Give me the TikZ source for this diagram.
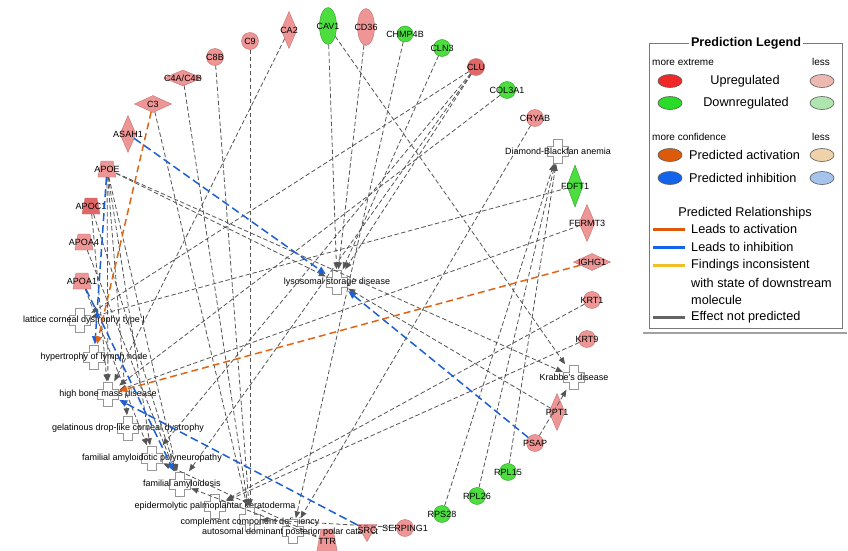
\documentclass[tikz,border=0pt]{standalone}
\usepackage{fontspec}
\setmainfont{Liberation Sans}
\usetikzlibrary{shapes.geometric,arrows.meta}
\definecolor{pinkf}{RGB}{238,150,150}
\definecolor{pinkd}{RGB}{200,110,110}
\definecolor{redf}{RGB}{224,104,104}
\definecolor{greenf}{RGB}{76,222,62}
\definecolor{greend}{RGB}{40,160,40}
\definecolor{edgegray}{RGB}{85,85,85}
\definecolor{actc}{RGB}{224,100,20}
\definecolor{inhc}{RGB}{30,95,210}
\definecolor{crossc}{RGB}{150,150,150}
\definecolor{legred}{RGB}{240,40,40}
\definecolor{leggreen}{RGB}{40,220,40}
\definecolor{legpink}{RGB}{235,185,175}
\definecolor{leglgreen}{RGB}{175,230,175}
\definecolor{legorange}{RGB}{220,90,10}
\definecolor{legblue}{RGB}{20,100,235}
\definecolor{legtan}{RGB}{240,210,170}
\definecolor{leglblue}{RGB}{165,195,235}
\definecolor{legyellow}{RGB}{240,190,40}
\definecolor{legboxc}{RGB}{120,120,120}
\newcommand{\nlab}[3][]{\node[lbl,#1] (#2-t) at (#2.center) {#3};}
\tikzset{
  lbl/.style={font=\fontsize{9}{10}\selectfont, text=black, inner sep=0pt},
  mol/.style={draw=pinkd, fill=pinkf, inner sep=0pt, line width=0.4pt},
  dn/.style={mol, draw=greend, fill=greenf},
  circ/.style={circle, minimum size=17pt},
  vdia/.style={diamond, minimum width=16pt, minimum height=37pt},
  hdia/.style={diamond, minimum width=37pt, minimum height=17pt},
  ell/.style={ellipse, minimum width=17pt, minimum height=37pt},
  trapbox/.style={rectangle, inner sep=0pt, minimum width=18pt, minimum height=16pt},
  trapz/.pic={\filldraw (-6,-8) -- (6,-8) -- (9,8) -- (-9,8) -- cycle;},
  bigtrapz/.pic={\filldraw (-6,-12) -- (6,-12) -- (10.5,12) -- (-10.5,12) -- cycle;},
  dis/.style={rectangle, inner sep=0pt, minimum width=22pt, minimum height=25pt},
  crossp/.pic={\filldraw[fill=white, draw=crossc, line width=0.8pt]
    (-4.5,-12) -- (4.5,-12) -- (4.5,-5) -- (10.5,-5) -- (10.5,5) -- (4.5,5) -- (4.5,12)
    -- (-4.5,12) -- (-4.5,5) -- (-10.5,5) -- (-10.5,-5) -- (-4.5,-5) -- cycle;},
  ge/.style={draw=edgegray, line width=0.8pt, dash pattern=on 4.5pt off 2.5pt, -{Triangle[length=7pt,width=5.5pt]}},
  oe/.style={draw=actc, line width=1.5pt, dash pattern=on 7pt off 4pt, -{Triangle[length=8pt,width=6.5pt]}},
  be/.style={draw=inhc, line width=1.5pt, dash pattern=on 8pt off 4pt, -{Triangle[length=8pt,width=6.5pt]}},
  legt/.style={font=\fontsize{12.7}{14}\selectfont, text=black, inner sep=0pt},
  legs/.style={font=\fontsize{10}{11}\selectfont, text=black, inner sep=0pt},
  lell/.style={ellipse, draw={rgb,255:red,90;green,90;blue,90}, line width=0.6pt, minimum width=24pt, minimum height=13pt, inner sep=0pt},
  legline/.style={line width=3pt}
}
\begin{document}
\begin{tikzpicture}[x=1pt,y=-1pt]
\useasboundingbox (0,0) rectangle (848,551);
\fill[white] (0,0) rectangle (848,551);

% ---------- legend ----------
\draw[draw=legboxc, line width=0.8pt] (649,43) rectangle (842,328);
\node[fill=white, inner sep=2pt, font=\fontsize{12.6}{14}\selectfont\bfseries] (ltitle) at (746,43) {Prediction Legend};
\node[legs, anchor=west] (lme) at (652,62) {more extreme};
\node[legs] (lless1) at (821,62) {less};
\node[lell, fill=legred] (e1) at (670,81) {};
\node[legt] (lup) at (745,81) {Upregulated};
\node[lell, fill=legpink] (e2) at (822,81) {};
\node[lell, fill=leggreen] (e3) at (670,103) {};
\node[legt] (ldown) at (746,103) {Downregulated};
\node[lell, fill=leglgreen] (e4) at (822,103) {};
\node[legs, anchor=west] (lmc) at (652,137) {more confidence};
\node[legs] (lless2) at (821,137) {less};
\node[lell, fill=legorange] (e5) at (670,155) {};
\node[legt, anchor=west] (lpa) at (689,155) {Predicted activation};
\node[lell, fill=legtan] (e6) at (822,155) {};
\node[lell, fill=legblue] (e7) at (670,178) {};
\node[legt, anchor=west] (lpi) at (689,178) {Predicted inhibition};
\node[lell, fill=leglblue] (e8) at (822,178) {};
\node[legt] (lpr) at (745,213) {Predicted Relationships};
\coordinate (la1) at (653,229); \coordinate (la2) at (685,229);
\coordinate (lb1) at (653,247); \coordinate (lb2) at (685,247);
\coordinate (lc1) at (653,265); \coordinate (lc2) at (685,265);
\coordinate (ld1) at (653,317); \coordinate (ld2) at (685,317);
\draw[legline, draw=legorange] (la1) -- (la2);
\draw[legline, draw=legblue] (lb1) -- (lb2);
\draw[legline, draw=legyellow] (lc1) -- (lc2);
\draw[legline, draw={rgb,255:red,100;green,100;blue,100}] (ld1) -- (ld2);
\node[legt, anchor=west] (lta) at (691,229) {Leads to activation};
\node[legt, anchor=west] (ltb) at (691,247) {Leads to inhibition};
\node[legt, anchor=west] (ltc) at (691,265) {Findings inconsistent};
\node[legt, anchor=west] (ltc2) at (691,283) {with state of downstream};
\node[legt, anchor=west] (ltc3) at (691,300) {molecule};
\node[legt, anchor=west] (ltd) at (691,317) {Effect not predicted};
\coordinate (lu1) at (643,333); \coordinate (lu2) at (847,333);
\draw[draw={rgb,255:red,160;green,160;blue,160}, line width=1.3pt] (lu1) -- (lu2);

% ---------- TTR (under the disease label) ----------
\pic[mol] at (327,541) {bigtrapz};
\node[trapbox, minimum width=21pt, minimum height=24pt] (ttr) at (327,541) {};
\nlab{ttr}{TTR}

% ---------- diseases ----------
\pic at (558,151) {crossp};
\node[dis] (dba) at (558,151) {};
\nlab{dba}{Diamond-Blackfan anemia}
\pic at (574,377) {crossp};
\node[dis] (krabbe) at (574,377) {};
\nlab{krabbe}{Krabbe's disease}
\pic at (337,282) {crossp};
\node[dis] (lsd) at (337,282) {};
\nlab{lsd}{lysosomal storage disease}
\pic at (80,320) {crossp};
\node[dis] (lcd) at (80,320) {};
\nlab[xshift=4pt]{lcd}{lattice corneal dystrophy type I}
\pic at (94,357) {crossp};
\node[dis] (hln) at (94,357) {};
\nlab{hln}{hypertrophy of lymph node}
\pic at (108,394) {crossp};
\node[dis] (hbm) at (108,394) {};
\nlab{hbm}{high bone mass disease}
\pic at (128,428) {crossp};
\node[dis] (gdl) at (128,428) {};
\nlab{gdl}{gelatinous drop-like corneal dystrophy}
\pic at (152,458) {crossp};
\node[dis] (fap) at (152,458) {};
\nlab{fap}{familial amyloidotic polyneuropathy}
\pic at (180,484) {crossp};
\node[dis] (fa) at (180,484) {};
\nlab[xshift=2pt]{fa}{familial amyloidosis}
\pic at (215,506) {crossp};
\node[dis] (epk) at (215,506) {};
\nlab{epk}{epidermolytic palmoplantar keratoderma}
\pic at (250,519) {crossp};
\node[dis] (ccd) at (250,519) {};
\nlab[yshift=-3pt]{ccd}{complement component deficiency}
\pic at (293,531) {crossp};
\node[dis] (adp) at (293,531) {};
\nlab[xshift=-3pt,yshift=-1pt]{adp}{autosomal dominant posterior polar cataract}

% ---------- molecules ----------
\node[mol, vdia] (ca2) at (289,30) {}; \nlab{ca2}{CA2}
\node[mol, circ] (c9) at (250,41) {}; \nlab{c9}{C9}
\node[mol, circ] (c8b) at (215,57) {}; \nlab{c8b}{C8B}
\node[mol, hdia, minimum width=38pt, minimum height=16pt] (c4) at (183,78) {}; \nlab{c4}{C4A/C4B}
\node[mol, hdia] (c3) at (153,104) {}; \nlab{c3}{C3}
\node[mol, vdia] (asah1) at (128,134) {}; \nlab{asah1}{ASAH1}
\pic[mol] at (107,169) {trapz};
\node[trapbox] (apoe) at (107,169) {}; \nlab{apoe}{APOE}
\pic[mol, fill=redf] at (91,206) {trapz};
\node[trapbox] (apoc1) at (91,206) {}; \nlab{apoc1}{APOC1}
\pic[mol] at (84,242) {trapz};
\node[trapbox] (apoa4) at (84,242) {}; \nlab{apoa4}{APOA4}
\pic[mol] at (82,281) {trapz};
\node[trapbox] (apoa1) at (82,281) {}; \nlab{apoa1}{APOA1}
\node[dn, ell] (cav1) at (328,26) {}; \nlab{cav1}{CAV1}
\node[mol, ell] (cd36) at (366,27) {}; \nlab{cd36}{CD36}
\node[dn, circ, minimum size=16pt] (chmp4b) at (405,34) {}; \nlab{chmp4b}{CHMP4B}
\node[dn, circ] (cln3) at (442,48) {}; \nlab{cln3}{CLN3}
\node[mol, circ, fill=redf] (clu) at (476,67) {}; \nlab{clu}{CLU}
\node[dn, circ] (col3a1) at (507,90) {}; \nlab{col3a1}{COL3A1}
\node[mol, circ] (cryab) at (535,118) {}; \nlab{cryab}{CRYAB}
\node[dn, vdia, minimum height=42pt] (fdft1) at (575,186) {}; \nlab{fdft1}{FDFT1}
\node[mol, vdia] (fermt3) at (587,223) {}; \nlab{fermt3}{FERMT3}
\node[mol, hdia] (ighg1) at (592,262) {}; \nlab{ighg1}{IGHG1}
\node[mol, circ] (krt1) at (592,300) {}; \nlab{krt1}{KRT1}
\node[mol, circ] (krt9) at (587,339) {}; \nlab{krt9}{KRT9}
\node[mol, vdia] (ppt1) at (557,412) {}; \nlab{ppt1}{PPT1}
\node[mol, circ] (psap) at (535,443) {}; \nlab{psap}{PSAP}
\node[dn, circ] (rpl15) at (508,472) {}; \nlab{rpl15}{RPL15}
\node[dn, circ] (rpl26) at (477,496) {}; \nlab{rpl26}{RPL26}
\node[dn, circ] (rps28) at (442,514) {}; \nlab{rps28}{RPS28}
\node[mol, circ] (serping1) at (405,528) {}; \nlab{serping1}{SERPING1}
\node[mol, regular polygon, regular polygon sides=3, shape border rotate=180, minimum size=23pt] (src) at (367,530) {}; \nlab{src}{SRC}

% ---------- relationships ----------
\draw[ge] (c3) -- (ccd);
\draw[ge] (c4) -- (ccd);
\draw[ge] (c8b) -- (ccd);
\draw[ge] (c9) -- (ccd);
\draw[ge] (serping1) -- (ccd);
\draw[ge] (ca2) -- (hbm);
\draw[ge] (cav1) -- (lsd);
\draw[ge] (cav1) -- (krabbe);
\draw[ge] (cd36) -- (lsd);
\draw[ge] (chmp4b) -- (adp);
\draw[ge] (cln3) -- (lsd);
\draw[ge] (clu) -- (lsd);
\draw[ge] (clu) -- (fa);
\draw[ge] (clu) -- (fap);
\draw[ge] (clu) -- (lcd);
\draw[ge] (col3a1) -- (hbm);
\draw[ge] (cryab) -- (adp);
\draw[ge] (rpl15) -- (dba);
\draw[ge] (rpl26) -- (dba);
\draw[ge] (rps28) -- (dba);
\draw[ge] (fdft1) -- (lcd);
\draw[ge] (fermt3) -- (hbm);
\draw[ge] (krt1) -- (epk);
\draw[ge] (krt9) -- (epk);
\draw[ge] (psap) -- (krabbe);
\draw[ge] (ppt1) -- (lsd);
\draw[ge] (apoe) -- (lsd);
\draw[ge] (apoe) -- (krabbe);
\draw[ge] (apoe) -- (hbm);
\draw[ge] (apoe) -- (gdl);
\draw[ge] (apoe) -- (fap);
\draw[ge] (apoe) -- (fa);
\draw[ge] (apoc1) -- (hbm);
\draw[ge] (apoc1) -- (fa);
\draw[ge] (apoa4) -- (fa);
\draw[ge] (apoa1) -- (fap);
\draw[ge] (ttr) -- (fap);
\draw[ge] (ttr) -- (fa);
\draw[be] (asah1) -- (lsd);
\draw[be] (psap) -- (lsd);
\draw[be] (apoe) -- (hln);
\draw[be] (apoa1) -- (fa);
\draw[be] (src) -- (hbm);
\draw[oe] (c3) -- (hln);
\draw[oe] (ighg1) -- (hbm);
\end{tikzpicture}
\end{document}
